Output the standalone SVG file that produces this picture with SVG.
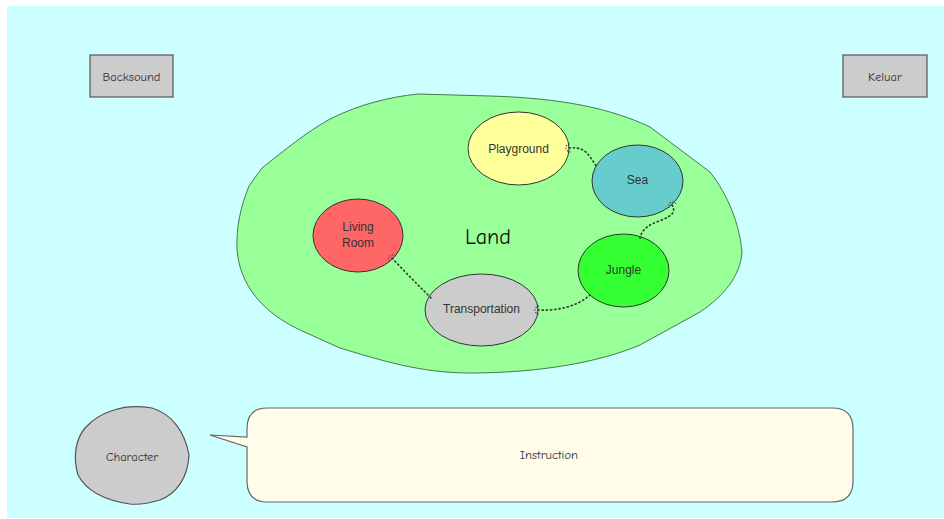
<svg xmlns="http://www.w3.org/2000/svg" width="944" height="519" viewBox="0 0 944 519">
  <defs>
    <style>
      .comic { font-family: "Comic Sans MS", "Comic Neue", "DejaVu Sans", sans-serif; fill: #333; text-anchor: middle; dominant-baseline: central; }
      .label { font-family: "Liberation Sans", Arial, sans-serif; font-size: 12px; fill: #333; text-anchor: middle; dominant-baseline: central; }
      .btn { fill: #cccccc; stroke: #555; stroke-width: 1.2; }
      .place { stroke: #333; stroke-width: 1; }
      .link { fill: none; stroke: #333; stroke-width: 1.6; stroke-dasharray: 1.2 3; stroke-linecap: round; }
    </style>
    <marker id="loop" viewBox="-6 -6 12 12" markerWidth="12" markerHeight="12" refX="0" refY="0" markerUnits="userSpaceOnUse" orient="auto">
      <path d="M1,-4 A4,4 0 1 0 1,4" fill="none" stroke="#333" stroke-width="1.1" stroke-dasharray="1.2 1.6"/>
    </marker>
  </defs>

  <!-- background -->
  <rect x="0" y="0" width="944" height="519" fill="#ffffff"/>
  <rect x="7" y="6" width="937" height="512" fill="#ccffff"/>

  <!-- land area -->
  <g id="land">
    <path d="M418,94 L490,96 C560,98 610,108 650,127 L710,172 C728,195 740,225 742,253 C740,276 724,296 700,312 L640,345 C600,362 540,373 470,373 C420,373 380,360 340,348 L300,330 C262,312 240,285 237,250 C236,226 241,206 249,186 L262,168 C285,150 305,133 330,119 C360,104 390,97 418,94 Z" fill="#99ff99" stroke="#4a7a4a" stroke-width="1"/>
    <text class="comic" x="488" y="237" font-size="22" style="fill:#111">Land</text>
  </g>

  <!-- buttons -->
  <g id="backsound">
    <rect class="btn" x="90" y="55" width="83" height="42"/>
    <text class="comic" x="131.5" y="77" font-size="12.5">Backsound</text>
  </g>
  <g id="keluar">
    <rect class="btn" x="843" y="55" width="84" height="42"/>
    <text class="comic" x="885" y="77" font-size="12.5">Keluar</text>
  </g>

  <!-- places -->
  <g id="playground">
    <ellipse class="place" cx="518.5" cy="148.5" rx="50.5" ry="36.5" fill="#ffff99"/>
    <text class="label" x="518.5" y="148.5">Playground</text>
  </g>
  <g id="sea">
    <ellipse class="place" cx="637.5" cy="181" rx="45.5" ry="36" fill="#66cccc"/>
    <text class="label" x="637.5" y="180">Sea</text>
  </g>
  <g id="living-room">
    <ellipse class="place" cx="358" cy="235.5" rx="45" ry="36.5" fill="#ff6666"/>
    <text class="label" x="358" y="227">Living</text>
    <text class="label" x="358" y="243">Room</text>
  </g>
  <g id="transportation">
    <ellipse class="place" cx="481.5" cy="310" rx="56.5" ry="36" fill="#cccccc"/>
    <text class="label" x="481.5" y="309">Transportation</text>
  </g>
  <g id="jungle">
    <ellipse class="place" cx="623.5" cy="270.5" rx="45.5" ry="36.5" fill="#33ff33"/>
    <text class="label" x="623.5" y="270">Jungle</text>
  </g>

  <!-- connectors (drawn over the places) -->
  <g id="connectors">
    <path class="link" d="M569,148 C586,146 589,156 597,167" marker-start="url(#loop)"/>
    <path class="link" d="M672,205 C679,216 662,219 652,224 C644,228 641,233 640,238" marker-start="url(#loop)"/>
    <path class="link" d="M392,258 C405,272 418,285 431,298" marker-start="url(#loop)"/>
    <path class="link" d="M538,310 C556,311 577,307 590,295" marker-start="url(#loop)"/>
  </g>

  <!-- character -->
  <g id="character">
    <path d="M114,410 C126,406 140,406 152,408 C172,414 185,432 189,455 C188,478 176,494 160,500 C150,503 140,505 130,504 C102,500 86,490 78,475 C73,458 75,440 85,428 C94,418 104,413 114,410 Z" fill="#cccccc" stroke="#555" stroke-width="1.2"/>
    <text class="comic" x="132" y="457" font-size="12.5">Character</text>
  </g>

  <!-- instruction bubble -->
  <g id="instruction">
    <path d="M267,408 L832,408 Q853,408 853,429 L853,481 Q853,502 832,502 L267,502 Q247,502 247,481 L247,447 L210,435 L247,437 L247,429 Q247,408 267,408 Z" fill="#fffcea" stroke="#666" stroke-width="1.2"/>
    <text class="comic" x="549" y="455" font-size="12.5">Instruction</text>
  </g>
</svg>
